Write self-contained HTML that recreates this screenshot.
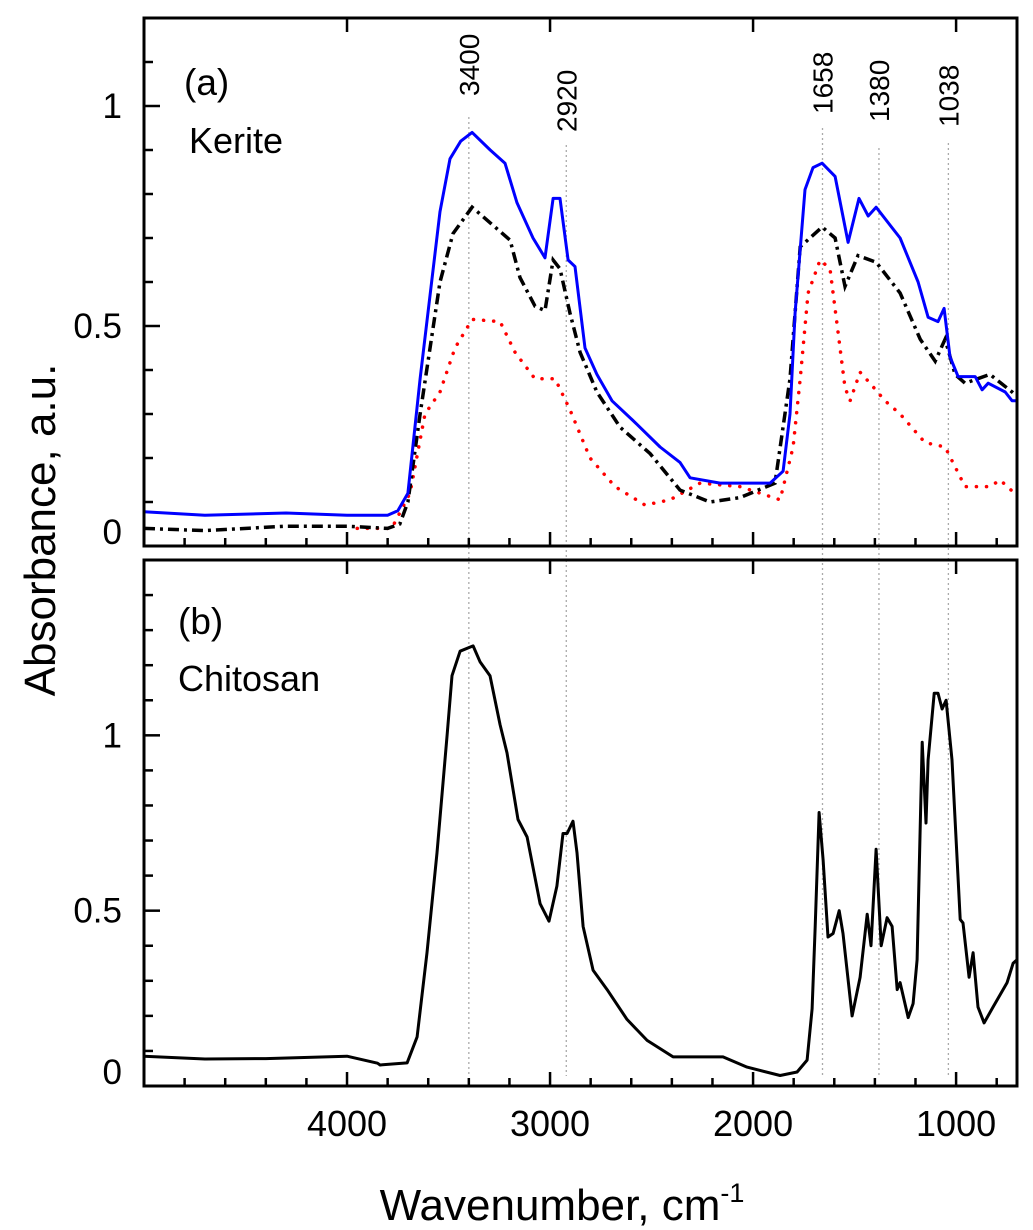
<!DOCTYPE html>
<html><head><meta charset="utf-8"><style>
html,body{margin:0;padding:0;background:#fff;}
svg{display:block;font-family:"Liberation Sans",Arial,sans-serif;}
</style></head><body>
<svg id="chart" width="1033" height="1230" viewBox="0 0 1033 1230" xmlns="http://www.w3.org/2000/svg">
<g id="refs"></g>
<g id="series"></g>
<g id="axes"></g>
<text x="184" y="95" font-size="37">(a)</text>
<text x="189" y="153" font-size="36">Kerite</text>
<text x="178" y="634" font-size="37">(b)</text>
<text x="178" y="691" font-size="36">Chitosan</text>
<text transform="translate(55,530) rotate(-90)" text-anchor="middle" font-size="44">Absorbance, a.u.</text>
<text x="562" y="1220" text-anchor="middle" font-size="44">Wavenumber, cm<tspan font-size="27" dy="-18">-1</tspan></text>
</svg>
<script>
// ---- data ----
const refWavenumbers = [3400, 2920, 1658, 1380, 1038];
const refLabels = ["3400", "2920", "1658", "1380", "1038"];
const xTickValues = [4000, 3000, 2000, 1000];
const xTickLabels = ["4000", "3000", "2000", "1000"];
const yTopTicks = [0, 0.5, 1];
const yTopLabels = ["0", "0.5", "1"];
const yBotTicks = [0, 0.5, 1];
const yBotLabels = ["0", "0.5", "1"];
const blueWn = [5000,4700,4300,4000,3800,3750,3700,3640,3542,3493,3440,3384,3295,3222,3163,3084,3025,2985,2951,2911,2877,2828,2769,2695,2591,2458,2360,2310,2163,1916,1852,1818,1793,1744,1705,1660,1596,1532,1478,1433,1394,1276,1187,1138,1089,1059,1030,990,906,872,842,758,724,700];
const blueAbs = [0.078,0.07,0.075,0.07,0.07,0.08,0.12,0.38,0.76,0.88,0.92,0.94,0.9,0.87,0.78,0.7,0.655,0.79,0.79,0.65,0.635,0.45,0.39,0.33,0.285,0.225,0.19,0.155,0.143,0.143,0.17,0.3,0.53,0.81,0.86,0.87,0.84,0.69,0.79,0.75,0.77,0.7,0.6,0.52,0.51,0.54,0.43,0.385,0.385,0.355,0.37,0.35,0.33,0.33];
const blackWn = [5000,4700,4300,4000,3800,3740,3700,3640,3542,3478,3384,3271,3197,3148,3074,3025,2985,2951,2902,2852,2769,2655,2507,2360,2212,2064,1892,1818,1768,1660,1596,1547,1483,1394,1276,1177,1103,1054,1005,956,833,724,700];
const blackAbs = [0.04,0.035,0.045,0.045,0.04,0.05,0.1,0.3,0.6,0.71,0.77,0.725,0.695,0.61,0.545,0.535,0.65,0.63,0.53,0.44,0.35,0.27,0.21,0.127,0.1,0.11,0.143,0.38,0.68,0.725,0.7,0.59,0.66,0.645,0.575,0.47,0.42,0.47,0.39,0.37,0.39,0.35,0.34];
const redWn = [3950,3780,3690,3616,3542,3468,3384,3246,3172,3074,2975,2902,2803,2680,2532,2409,2261,2064,1867,1803,1768,1729,1670,1621,1581,1547,1522,1473,1424,1350,1276,1153,1054,1005,956,833,783,724,700];
const redAbs = [0.04,0.04,0.12,0.3,0.35,0.45,0.515,0.51,0.44,0.38,0.38,0.31,0.2,0.135,0.093,0.105,0.143,0.135,0.105,0.225,0.38,0.575,0.65,0.63,0.485,0.36,0.33,0.395,0.37,0.33,0.3,0.235,0.225,0.18,0.135,0.135,0.15,0.125,0.12];
const chitWn = [5000,4700,4400,4000,3850,3837,3704,3655,3606,3557,3507,3483,3443,3379,3345,3296,3246,3212,3158,3113,3049,3005,2966,2936,2916,2887,2867,2837,2788,2719,2621,2522,2394,2148,2030,1867,1783,1734,1709,1694,1675,1655,1631,1606,1576,1557,1512,1473,1438,1419,1394,1369,1340,1315,1290,1276,1236,1212,1192,1167,1148,1138,1108,1089,1069,1049,1020,980,966,936,916,892,862,818,749,719,700];
const chitAbs = [0.085,0.077,0.078,0.085,0.065,0.06,0.066,0.14,0.38,0.665,1.0,1.17,1.24,1.255,1.21,1.17,1.03,0.95,0.76,0.71,0.52,0.47,0.57,0.72,0.72,0.755,0.665,0.455,0.33,0.275,0.19,0.13,0.083,0.083,0.054,0.03,0.04,0.074,0.22,0.455,0.78,0.645,0.425,0.435,0.5,0.435,0.2,0.31,0.49,0.4,0.675,0.4,0.48,0.455,0.275,0.295,0.195,0.235,0.36,0.98,0.75,0.93,1.12,1.12,1.075,1.1,0.93,0.475,0.465,0.31,0.38,0.225,0.18,0.225,0.295,0.35,0.36];

// ---- scales ----
const X0 = 144, X1 = 1017, WN0 = 5000, WN1 = 700;
function xs(w){ return X0 + (WN0 - w) * (X1 - X0) / (WN0 - WN1); }
const topY0 = 546, topY1 = 18, topMax = 1.2;
function yTop(v){ return topY0 - v * (topY0 - topY1) / topMax; }
const botY0 = 1086, botY1 = 560, botMax = 1.5;
function yBot(v){ return botY0 - v * (botY0 - botY1) / botMax; }

const NS = "http://www.w3.org/2000/svg";
function mk(tag, attrs, parent){
  const e = document.createElementNS(NS, tag);
  for (const k in attrs) e.setAttribute(k, attrs[k]);
  parent.appendChild(e); return e;
}
const axes = document.getElementById('axes');
const series = document.getElementById('series');
const refs = document.getElementById('refs');

// reference lines
const refTops = [117, 145, 128, 148, 143];
const labelBottoms = [96, 132, 114, 122, 127];
refWavenumbers.forEach((w, i) => {
  const ln = mk('line', {x1: xs(w), x2: xs(w), y1: refTops[i], y2: 1076, stroke: '#aaa', 'stroke-width': 1.3, 'stroke-dasharray': '2,3'}, refs);
  
  
  const t = mk('text', {transform: `translate(${xs(w) + 10},${labelBottoms[i]}) rotate(-90)`, 'font-size': 28}, refs);
  t.textContent = refLabels[i];
  
  
});

function path(wn, vals, yf){
  return wn.map((w, i) => (i ? 'L' : 'M') + xs(w).toFixed(1) + ',' + yf(vals[i]).toFixed(1)).join(' ');
}
let p;
p = mk('path', {d: path(redWn, redAbs, yTop), fill: 'none', stroke: '#ff0000', 'stroke-width': 3.5, 'stroke-dasharray': '0.1,10', 'stroke-linecap': 'round'}, series);


p = mk('path', {d: path(blackWn, blackAbs, yTop), fill: 'none', stroke: '#000', 'stroke-width': 3.5, 'stroke-dasharray': '11,5,3,5'}, series);


p = mk('path', {d: path(blueWn, blueAbs, yTop), fill: 'none', stroke: '#0000ff', 'stroke-width': 3, 'stroke-linejoin': 'round'}, series);


p = mk('path', {d: path(chitWn, chitAbs, yBot), fill: 'none', stroke: '#000', 'stroke-width': 3, 'stroke-linejoin': 'round'}, series);



// frames & ticks
function panel(yA, yB, yf, maxV, yt, yl, name, showXLabels){
  const r = mk('rect', {x: X0, y: yB, width: X1 - X0, height: yA - yB, fill: 'none', stroke: '#000', 'stroke-width': 3}, axes);
  
  
  for (let w = 4800; w > WN1; w -= 200) {
    const major = w % 1000 === 0;
    const L = major ? 14 : 8;
    mk('line', {x1: xs(w), x2: xs(w), y1: yA, y2: yA - L, stroke: '#000', 'stroke-width': 2.5}, axes);
    if (major) mk('line', {x1: xs(w), x2: xs(w), y1: yB, y2: yB + L, stroke: '#000', 'stroke-width': 2.5}, axes);
  }
  for (let k = 1; k <= Math.round(maxV * 10) - 1; k++) {
    const v = k / 10;
    const major = (k % 5 === 0);
    mk('line', {x1: X0, x2: X0 + (major ? 16 : 9), y1: yf(v), y2: yf(v), stroke: '#000', 'stroke-width': 2.5}, axes);
  }
  yt.forEach((v, i) => {
    const t = mk('text', {x: 122, y: yf(v) + 12 - (v === 0 ? 14 : 0), 'text-anchor': 'end', 'font-size': 35}, axes);
    t.textContent = yl[i];
    
    
  });
  if (showXLabels) xTickValues.forEach((w, i) => {
    const t = mk('text', {x: xs(w), y: 1136, 'text-anchor': 'middle', 'font-size': 36}, axes);
    t.textContent = xTickLabels[i];
    
    
  });
}
panel(topY0, topY1, yTop, topMax, yTopTicks, yTopLabels, 'top-panel', false);
panel(botY0, botY1, yBot, botMax, yBotTicks, yBotLabels, 'bottom-panel', true);
</script>
</body></html>
